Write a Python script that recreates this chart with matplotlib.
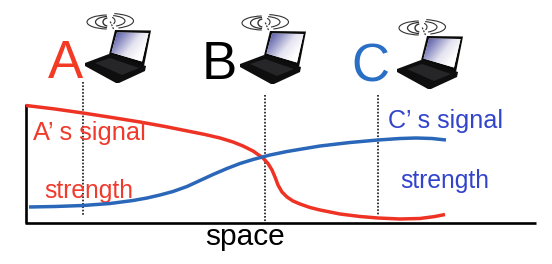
import numpy as np
import matplotlib
matplotlib.use('Agg')
import matplotlib.pyplot as plt
from matplotlib.patches import Polygon, Arc
from matplotlib.colors import LinearSegmentedColormap

plt.rcParams['font.family'] = ['Liberation Sans', 'DejaVu Sans']

# curves (pixels)
red_x = [26, 55, 83, 112, 140, 165, 190, 205, 220, 233, 243, 253, 263, 268, 272, 275, 278, 282, 287, 293, 300, 310, 320, 340, 360, 378, 400, 420, 435, 445]
red_y = [105.5, 109, 113, 117.5, 122, 126.5, 131.5, 134.5, 138, 142, 146, 151, 158, 163.5, 170, 177, 185, 192, 197, 201, 204, 207.5, 210, 214, 216.5, 218, 219, 218.5, 216.5, 214.5]
blue_x = [29, 55, 83, 110, 133, 147, 160, 173, 187, 200, 213, 227, 240, 253, 270, 287, 320, 350, 378, 400, 416, 432, 446]
blue_y = [207, 206.5, 205.5, 203.5, 200.5, 198, 195, 191.5, 186.5, 180.5, 174.5, 168.5, 163.5, 159.5, 155, 151.5, 146, 142.5, 140, 138.5, 138, 138.5, 140]

dot_x = [83, 265, 378]
dot_top = [82, 95, 95]
dot_bottom = [216, 222, 216]

node_names = ['A', 'B', 'C']
node_x = [65, 219, 370]
node_base = [78, 79, 81]
node_cols = ['#F23A24', '#000000', '#2A6FC6']

laptop_dx = [0, 155, 312]
laptop_dy = [0, 1, 6]

RED = '#EE3324'
BLUE = '#2B67B8'
BLUE_TXT = '#3344CC'
RED_TXT = '#F03A2C'

fig = plt.figure(figsize=(5.52, 2.64), dpi=100)
ax = fig.add_axes([0, 0, 1, 1])
screen_cmap = LinearSegmentedColormap.from_list('scr', ['#3F4494', '#8F90C4', '#E4E3F0', '#FFFFFF'])


def laptop(dx, dy):
    def P(pts, **kw):
        p = Polygon([(x + dx, y + dy) for x, y in pts], closed=True, **kw)
        ax.add_patch(p)
        return p
    # base
    P([(85, 63), (109, 54), (146, 66), (145, 71), (119, 83), (116, 83), (85, 66)], fc='#0E0E0E', ec='none', zorder=3)
    P([(95, 63), (110, 58), (139, 68), (122, 75)], fc='#262628', ec='none', zorder=3)
    # lid
    P([(115, 30), (151, 30.5), (144, 66), (109, 54.5)], fc='#0A0A0A', ec='none', zorder=3)
    scr = P([(117, 32.5), (148.5, 33), (142, 61.5), (111.5, 52.5)], fc='white', ec='none', zorder=4)
    g = np.linspace(0, 1, 60)
    xx, yy = np.meshgrid(g, g)
    im = ax.imshow(np.clip(0.8 * xx + 0.5 * yy, 0, 1), extent=(111 + dx, 149 + dx, 62 + dy, 32 + dy),
                   cmap=screen_cmap, vmin=0, vmax=1, aspect='auto', zorder=5, interpolation='bilinear')
    im.set_clip_path(scr)
    # antenna
    ax.plot([113.5 + dx, 110 + dx], [29 + dy, 21 + dy], color='#333333', lw=0.9, ls=(0, (1.5, 1)), zorder=3)
    # waves
    for w, h, lw in [(10, 8, 1.0), (25, 11, 0.9), (42, 14, 0.8)]:
        ax.add_patch(Arc((108 + dx, 22 + dy), w, h, theta1=100, theta2=260, color='#333333', lw=lw, zorder=3))
    for w, h, lw in [(10, 8, 0.8), (30, 11, 0.8), (47, 15, 0.8)]:
        ax.add_patch(Arc((110 + dx, 21 + dy), w, h, theta1=-60, theta2=40, color='#333333', lw=lw, zorder=3))


for dx, dy in zip(laptop_dx, laptop_dy):
    laptop(dx, dy)

# axes lines
ax.plot([25.5, 25.5], [104, 223], color='black', lw=1.9, solid_capstyle='butt', zorder=2)
ax.plot([25, 536], [222.5, 222.5], color='black', lw=1.9, solid_capstyle='butt', zorder=2)

for x, t, b in zip(dot_x, dot_top, dot_bottom):
    ax.plot([x, x], [t, b], color='black', lw=1.1, ls=(0, (1.1, 1.1)), zorder=1)

ax.plot(red_x, red_y, color=RED, lw=2.5, solid_capstyle='butt', solid_joinstyle='round', zorder=3)
ax.plot(blue_x, blue_y, color=BLUE, lw=2.5, solid_capstyle='butt', solid_joinstyle='round', zorder=4)

for name, x, b, c in zip(node_names, node_x, node_base, node_cols):
    ax.text(x, b, name, color=c, fontsize=38, ha='center', va='baseline', zorder=6)

ax.text(33, 140, 'A’ s signal', color=RED_TXT, fontsize=18.3, va='baseline', zorder=5)
ax.text(44, 198, 'strength', color=RED_TXT, fontsize=17.7, va='baseline', zorder=2)
ax.text(388, 128, 'C’ s signal', color=BLUE_TXT, fontsize=18.1, va='baseline', zorder=5)
ax.text(400.5, 188, 'strength', color=BLUE_TXT, fontsize=17.7, va='baseline', zorder=5)
ax.text(245, 245, 'space', color='black', fontsize=21.5, ha='center', va='baseline', zorder=5)

ax.set_xlim(0, 552)
ax.set_ylim(264, 0)
ax.axis('off')
fig.savefig('out.png', dpi=100, facecolor='white')
